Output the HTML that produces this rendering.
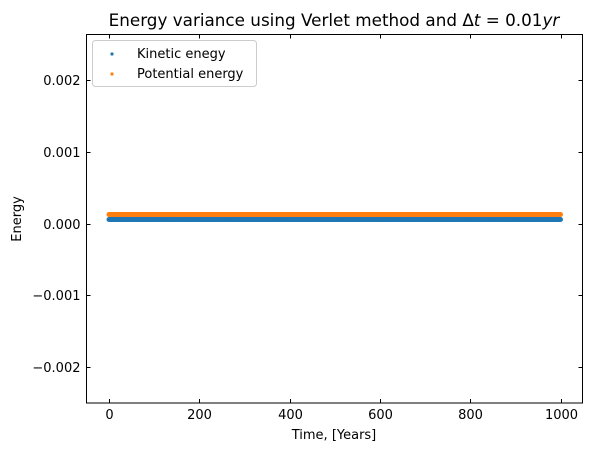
<!DOCTYPE html>
<html><head><meta charset="utf-8"><style>
body{margin:0;background:#fff;font-family:"Liberation Sans","DejaVu Sans",sans-serif}
svg text{font-family:"DejaVu Sans","Liberation Sans",sans-serif;fill:#000}
</style></head><body>
<svg id="chart" width="591" height="452" viewBox="0 0 591 452" xmlns="http://www.w3.org/2000/svg">
<rect width="591" height="452" fill="#fff"/>
<g id="marks"></g>
<rect x="86.5" y="34.5" width="496" height="368.5" fill="none" stroke="#000" stroke-width="1"/>
<g id="ticks"></g>
<text x="334" y="26" font-size="16.8" text-anchor="middle">Energy variance using Verlet method and Δ<tspan font-style="italic">t</tspan> = 0.01<tspan font-style="italic">yr</tspan></text>
<text x="334" y="439" font-size="13" text-anchor="middle">Time, [Years]</text>
<text x="21" y="219" font-size="13" text-anchor="middle" transform="rotate(-90 21 219)">Energy</text>
<g>
<rect x="92.5" y="40.5" width="164" height="46" rx="3" fill="#fff" fill-opacity="0.8" stroke="#ccc"/>
<circle cx="112" cy="54" r="1.6" fill="#1f77b4"/>
<text x="137" y="58" font-size="13">Kinetic enegy</text>
<circle cx="112" cy="74" r="1.6" fill="#ff7f0e"/>
<text x="137" y="78" font-size="13">Potential energy</text>
</g>
</svg>
<script>
const times = [];
for (let t = 0; t <= 1000; t += 2) times.push(t);
const kineticValues = [5.6e-5];
const potentialValues = [1.25e-4];
const xTicks = [0, 200, 400, 600, 800, 1000];
const yTicks = [-0.002, -0.001, 0.000, 0.001, 0.002];
const yTickLabels = ["\u22120.002", "\u22120.001", "0.000", "0.001", "0.002"];

const L = 86.5, R = 582.5, T = 34.5, B = 403;
function xs(v) { return 109 + (v - 0) * (560.5 - 109) / 1000; }
function ys(v) { return 223.5 - v * 71.7 / 0.001; }
const NS = "http://www.w3.org/2000/svg";
const marks = document.getElementById("marks");
const ticks = document.getElementById("ticks");

function series(vals, color, name) {
  const g = document.createElementNS(NS, "g");
  
  
  times.forEach((t, i) => {
    const v = vals[i] !== undefined ? vals[i] : vals[vals.length - 1];
    const c = document.createElementNS(NS, "circle");
    c.setAttribute("cx", xs(t));
    c.setAttribute("cy", ys(v));
    c.setAttribute("r", 2.5);
    c.setAttribute("fill", color);
    
    
    g.appendChild(c);
  });
  marks.appendChild(g);
}
series(kineticValues, "#1f77b4", "kinetic-series");
series(potentialValues, "#ff7f0e", "potential-series");

function line(x1, y1, x2, y2) {
  const l = document.createElementNS(NS, "line");
  l.setAttribute("x1", x1); l.setAttribute("y1", y1);
  l.setAttribute("x2", x2); l.setAttribute("y2", y2);
  l.setAttribute("stroke", "#000");
  
  
  ticks.appendChild(l);
}
function text(x, y, s, anchor, name) {
  const t = document.createElementNS(NS, "text");
  t.setAttribute("x", x); t.setAttribute("y", y);
  t.setAttribute("font-size", "13");
  t.setAttribute("text-anchor", anchor);
  t.textContent = s;
  
  
  ticks.appendChild(t);
}
xTicks.forEach(v => {
  const x = Math.round(xs(v)) + 0.5;
  line(x, B, x, B - 4);
  line(x, T, x, T + 4);
  text(x, B + 16, String(v), "middle", "x-tick-label");
});
yTicks.forEach((v, i) => {
  const y = Math.round(ys(v)) + 0.5;
  line(L, y, L + 4, y);
  line(R, y, R - 4, y);
  text(L - 6, y + 4.5, yTickLabels[i], "end", "y-tick-label");
});
</script>
</body></html>
